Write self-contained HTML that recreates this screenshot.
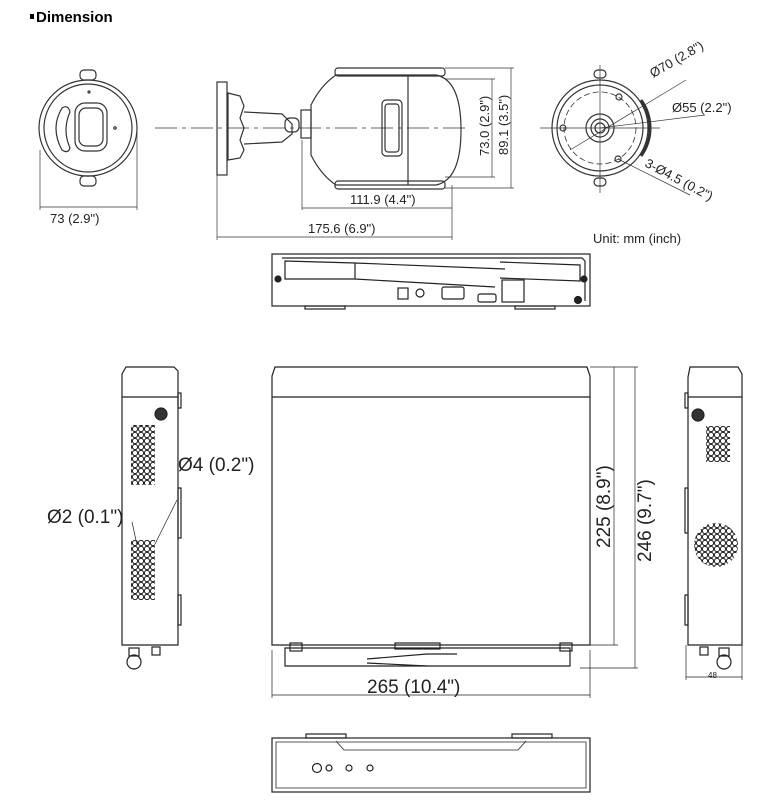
<!DOCTYPE html>
<html><head><meta charset="utf-8"><style>
html,body{margin:0;padding:0;background:#fff;}
svg{display:block;font-family:"Liberation Sans",sans-serif;}
</style></head><body>
<svg width="765" height="803" viewBox="0 0 765 803" xmlns="http://www.w3.org/2000/svg">
<defs>
<pattern id="holes" x="0" y="0" width="6" height="6" patternUnits="userSpaceOnUse">
<circle cx="3" cy="3" r="2.6" fill="none" stroke="#222" stroke-width="1"/>
</pattern>
</defs>
<rect x="30" y="14" width="4" height="5" fill="#000"/>
<text x="36" y="22" font-size="15" font-weight="bold" fill="#000">Dimension</text>

<g fill="none" stroke="#333" stroke-width="1.2">
<!-- front camera -->
<ellipse cx="88" cy="128" rx="49" ry="48"/>
<ellipse cx="88" cy="128" rx="44" ry="44"/>
<rect x="75" y="103" width="32" height="48" rx="10"/>
<rect x="79" y="108" width="24" height="38" rx="7"/>
<path d="M62 108 q-12 20 0 42 q6 4 8 -2 q-8 -18 0 -36 q-2 -8 -8 -4z"/>
<circle cx="89" cy="92" r="1"/><circle cx="115" cy="128" r="1.2"/>
<rect x="80" y="70" width="16" height="10" rx="4"/>
<rect x="80" y="176" width="16" height="10" rx="4"/>
<line x1="40" y1="150" x2="40" y2="210" stroke-width="0.7"/>
<line x1="137" y1="130" x2="137" y2="210" stroke-width="0.7"/>
<line x1="40" y1="207" x2="137" y2="207" stroke-width="0.7"/>
<line x1="155" y1="128" x2="470" y2="128" stroke-width="0.7" stroke-dasharray="22,5,4,5"/>
<!-- mount -->
<rect x="217" y="82" width="10" height="93"/>
<path d="M228 93 l12 3 l4 10 l-4 12 l4 10 l-4 12 l4 10 l-4 8 l-12 2z"/>
<path d="M244 112 l38 2 l10 10 v10 l-10 8 l-38 2"/>
<rect x="285" y="118" width="14" height="14" rx="5"/>
<rect x="301" y="110" width="10" height="28"/>
<!-- body -->
<path d="M311 105 q10 -20 25 -30 h100 q25 5 25 55 q0 50 -25 55 h-100 q-15 -10 -25 -30z"/>
<line x1="408" y1="75" x2="408" y2="185"/>
<rect x="335" y="68" width="110" height="8" rx="3"/>
<rect x="335" y="181" width="110" height="8" rx="3"/>
<rect x="382" y="100" width="20" height="56" rx="4"/>
<rect x="385" y="104" width="14" height="48" rx="3"/>
<!-- dims -->
<line x1="302" y1="140" x2="302" y2="210" stroke-width="0.7"/>
<line x1="452" y1="185" x2="452" y2="240" stroke-width="0.7"/>
<line x1="302" y1="208" x2="452" y2="208" stroke-width="0.7"/>
<line x1="217" y1="175" x2="217" y2="240" stroke-width="0.7"/>
<line x1="217" y1="237" x2="452" y2="237" stroke-width="0.7"/>
<line x1="445" y1="79" x2="495" y2="79" stroke-width="0.7"/>
<line x1="445" y1="177" x2="495" y2="177" stroke-width="0.7"/>
<line x1="492" y1="79" x2="492" y2="177" stroke-width="0.7"/>
<line x1="445" y1="68" x2="514" y2="68" stroke-width="0.7"/>
<line x1="445" y1="188" x2="514" y2="188" stroke-width="0.7"/>
<line x1="511" y1="68" x2="511" y2="188" stroke-width="0.7"/>
<!-- rear view -->
<circle cx="600" cy="128" r="48"/>
<path d="M641 100 a48 48 0 0 1 0 56" stroke-width="3"/>
<circle cx="600" cy="128" r="43"/>
<circle cx="600" cy="128" r="36" stroke-dasharray="6,3" stroke-width="0.8"/>
<circle cx="600" cy="128" r="14"/>
<circle cx="600" cy="128" r="9"/>
<circle cx="600" cy="128" r="5"/>
<circle cx="619" cy="97" r="3"/><circle cx="563" cy="128" r="3"/><circle cx="618" cy="159" r="3"/>
<rect x="594" y="70" width="12" height="8" rx="4"/>
<rect x="594" y="178" width="12" height="8" rx="4"/>
<line x1="540" y1="128" x2="660" y2="128" stroke-width="0.7"/>
<line x1="600" y1="65" x2="600" y2="193" stroke-width="0.7"/>
<line x1="570" y1="150" x2="686" y2="80" stroke-width="0.7"/>
<line x1="600" y1="128" x2="705" y2="115" stroke-width="0.7"/>
<line x1="618" y1="159" x2="690" y2="195" stroke-width="0.7"/>
</g>
<g font-size="13" fill="#222">
<text x="50" y="223">73 (2.9")</text>
<text x="350" y="204">111.9 (4.4")</text>
<text x="308" y="233">175.6 (6.9")</text>
<text transform="translate(489,156) rotate(-90)">73.0 (2.9")</text>
<text transform="translate(508,155) rotate(-90)">89.1 (3.5")</text>
<text transform="translate(653,78) rotate(-30)">Ø70 (2.8")</text>
<text x="672" y="112">Ø55 (2.2")</text>
<text transform="translate(644,166) rotate(28)">3-Ø4.5 (0.2")</text>
<text x="593" y="243">Unit: mm (inch)</text>
</g>

<g fill="none" stroke="#222" stroke-width="1.2">
<!-- NVR back -->
<rect x="272" y="254" width="318" height="52"/>
<path d="M282 258 h300 l3 3 v40"/>
<path d="M285 261 l70 2 v16 h-70z M355 263 l150 6 M355 279 l140 8"/>
<path d="M500 262 l80 3 v16 l-80 -3"/>
<rect x="398" y="288" width="10" height="11"/>
<circle cx="420" cy="293" r="4"/>
<rect x="442" y="287" width="22" height="12" rx="2"/>
<rect x="478" y="294" width="18" height="8" rx="2"/>
<rect x="502" y="280" width="22" height="22"/>
<circle cx="278" cy="279" r="3" fill="#222"/>
<circle cx="584" cy="279" r="3" fill="#222"/>
<circle cx="578" cy="300" r="3.5" fill="#222"/>
<rect x="305" y="306" width="40" height="3"/>
<rect x="515" y="306" width="40" height="3"/>

<!-- left side -->
<path d="M122 645 V374 l4 -7 h48 l4 4 V645z"/>
<line x1="122" y1="397" x2="178" y2="397"/>
<circle cx="161" cy="414" r="6" fill="#333"/>
<rect x="178" y="393" width="3" height="15"/>
<rect x="178" y="488" width="3" height="50"/>
<rect x="178" y="595" width="3" height="30"/>
<rect x="131" y="425" width="24" height="60" fill="url(#holes)" stroke="none"/>
<rect x="131" y="540" width="24" height="60" fill="url(#holes)" stroke="none"/>
<circle cx="134" cy="662" r="7"/><rect x="129" y="648" width="10" height="8"/>
<rect x="152" y="647" width="8" height="8"/>
<line x1="177" y1="500" x2="155" y2="544" stroke-width="0.7"/>
<line x1="132" y1="522" x2="137" y2="545" stroke-width="0.7"/>

<!-- main top view -->
<path d="M272 645 V376 l3 -9 h312 l3 9 V645z"/>
<line x1="272" y1="397" x2="590" y2="397"/>
<path d="M285 648 h285 v18 h-285z"/>
<path d="M367 659 l60 -5 l30 0 M367 663 l60 3"/>
<rect x="290" y="643" width="12" height="8"/><rect x="560" y="643" width="12" height="8"/>
<rect x="395" y="643" width="45" height="6"/>
<line x1="272" y1="650" x2="272" y2="698" stroke-width="0.7"/>
<line x1="590" y1="650" x2="590" y2="698" stroke-width="0.7"/>
<line x1="272" y1="695" x2="590" y2="695" stroke-width="0.7"/>
<line x1="590" y1="367" x2="638" y2="367" stroke-width="0.7"/>
<line x1="590" y1="645" x2="618" y2="645" stroke-width="0.7"/>
<line x1="580" y1="668" x2="638" y2="668" stroke-width="0.7"/>
<line x1="614" y1="367" x2="614" y2="645" stroke-width="0.7"/>
<line x1="635" y1="367" x2="635" y2="668" stroke-width="0.7"/>

<!-- right side -->
<path d="M688 645 V377 l2 -10 h48 l4 7 V645z"/>
<line x1="688" y1="397" x2="742" y2="397"/>
<circle cx="698" cy="415" r="6" fill="#333"/>
<rect x="685" y="393" width="3" height="15"/>
<rect x="685" y="488" width="3" height="45"/>
<rect x="685" y="595" width="3" height="30"/>
<rect x="706" y="426" width="24" height="36" fill="url(#holes)" stroke="none"/>
<circle cx="716" cy="545" r="22" fill="url(#holes)" stroke="none"/>
<circle cx="724" cy="662" r="7"/><rect x="719" y="648" width="10" height="8"/>
<rect x="700" y="647" width="8" height="8"/>
<line x1="686" y1="645" x2="686" y2="680" stroke-width="0.7"/>
<line x1="742" y1="645" x2="742" y2="680" stroke-width="0.7"/>
<line x1="686" y1="677" x2="742" y2="677" stroke-width="0.7"/>

<!-- front -->
<rect x="272" y="738" width="318" height="54"/>
<path d="M276 742 h310 v46 h-310z" stroke-width="0.8"/>
<path d="M336 741 l8 9 h174 l8 -9" stroke-width="0.8"/>
<rect x="306" y="734" width="40" height="4"/><rect x="512" y="734" width="40" height="4"/>
<circle cx="317" cy="768" r="4.5"/><circle cx="329" cy="768" r="3"/>
<circle cx="349" cy="768" r="3"/><circle cx="370" cy="768" r="3"/>
</g>
<g fill="#222">
<text x="178" y="471" font-size="19">Ø4 (0.2")</text>
<text x="47" y="523" font-size="19">Ø2 (0.1")</text>
<text transform="translate(610,548) rotate(-90)" font-size="19">225 (8.9")</text>
<text transform="translate(651,562) rotate(-90)" font-size="19">246 (9.7")</text>
<text x="367" y="693" font-size="19">265 (10.4")</text>
<text x="708" y="678" font-size="8">48</text>
</g>
</svg>
</body></html>
